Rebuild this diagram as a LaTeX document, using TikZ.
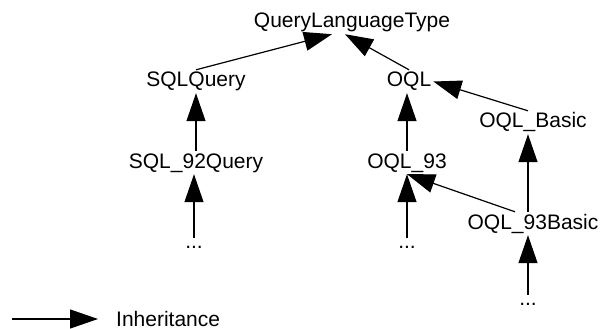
\documentclass[tikz,border=0pt]{standalone}
\usepackage{fontspec}
\setmainfont{Liberation Sans}
\usetikzlibrary{arrows.meta}
\begin{document}
\begin{tikzpicture}[x=1pt, y=-1pt,
    cls/.style={anchor=base, inner sep=2pt, text height=15pt, text depth=4pt, font=\fontsize{21}{25}\selectfont},
    more/.style={anchor=base, inner sep=2pt, text height=8pt, text depth=2pt, font=\fontsize{21}{25}\selectfont},
    inh/.style={line width=1.2pt, -{Triangle[length=28pt, width=19pt]}}]
  \useasboundingbox (0,0) rectangle (608,329);

  \node[cls] (qlt) at (352,28) {QueryLanguageType};
  \node[cls] (sqlq) at (196,87) {SQLQuery};
  \node[cls] (oql) at (409,87) {OQL};
  \node[cls] (oqlb) at (533,128) {OQL\_Basic};
  \node[cls] (sql92) at (196,168) {SQL\_92Query};
  \node[cls] (oql93) at (407,168) {OQL\_93};
  \node[cls] (oql93b) at (533,229) {OQL\_93Basic};
  \node[more] (dotsa) at (194,248) {...};
  \node[more] (dotsb) at (407,248) {...};
  \node[more] (dotsc) at (528,305) {...};

  \draw[inh] (sqlq.north) -- ([xshift=-20pt]qlt.south);
  \draw[inh] (oql.north) -- ([xshift=-7pt]qlt.south);
  \draw[inh] ([xshift=-5pt]oqlb.north) -- (oql.east);
  \draw[inh] (sql92.north) -- (sqlq.south);
  \draw[inh] (oql93.north) -- (oql93.north |- oql.south);
  \draw[inh] ([xshift=-5pt]oql93b.north) -- ([xshift=-5pt]oqlb.south);
  \draw[inh] ([xshift=-18pt]oql93b.north) -- (oql93.south);
  \draw[inh] (dotsa.north) -- (dotsa.north |- sql92.south);
  \draw[inh] (dotsb.north) -- (oql93.south);
  \draw[inh] (dotsc.north) -- (dotsc.north |- oql93b.south);

  % legend
  \coordinate (lgstart) at (12,319);
  \node[cls, anchor=base west] (lgtext) at (114,326) {Inheritance};
  \draw[inh, shorten >=16pt] (lgstart) -- (lgstart -| lgtext.west);
\end{tikzpicture}
\end{document}
